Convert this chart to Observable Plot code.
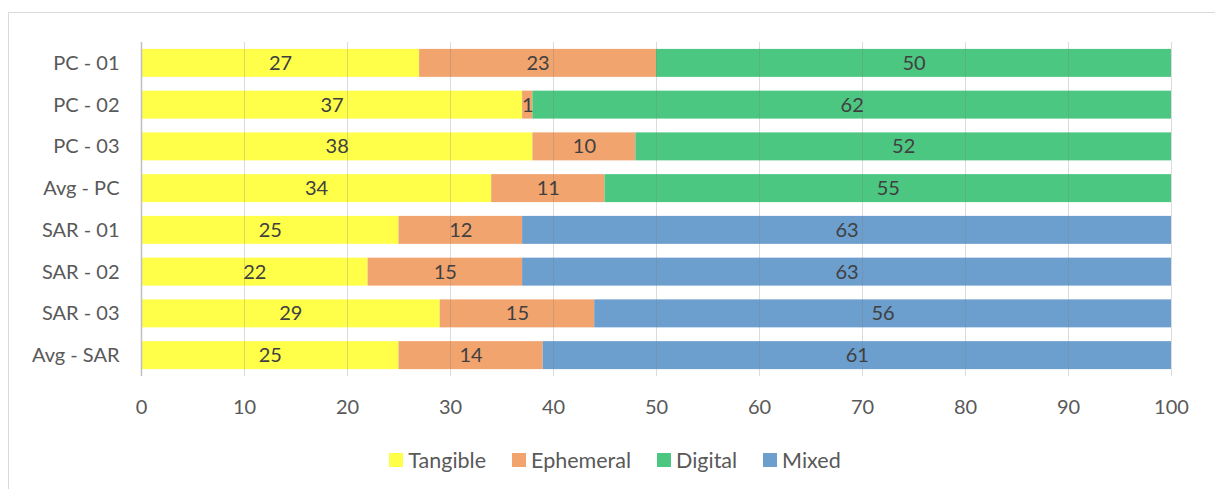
<!DOCTYPE html>
<html>
<head>
<meta charset="utf-8">
<script src="https://cdn.jsdelivr.net/npm/d3@7"></script>
<script src="https://cdn.jsdelivr.net/npm/@observablehq/plot@0.6"></script>
<style>
  html, body { margin: 0; padding: 0; background: #fff; }
  body { width: 1215px; height: 489px; position: relative; overflow: hidden; font-family: Lato, "Open Sans", sans-serif; }
  #frame { position: absolute; left: 8px; top: 12px; width: 1300px; height: 600px; border: 1px solid #d9d9d9; box-sizing: border-box; }
  #chart { position: absolute; left: 0; top: 0; }
  #legend { position: absolute; left: 0; top: 448px; width: 1230px; display: flex; justify-content: center; gap: 26px; font-size: 21.5px; line-height: 24px; color: #595959; }
  #legend .item { display: flex; align-items: center; gap: 5px; }
  #legend .sw { width: 14px; height: 14px; display: inline-block; }
</style>
</head>
<body>
<div id="frame"></div>
<div id="chart"></div>
<div id="legend"></div>
<script>
const categories = ["PC - 01","PC - 02","PC - 03","Avg - PC","SAR - 01","SAR - 02","SAR - 03","Avg - SAR"];
const types = ["Tangible","Ephemeral","Digital","Mixed"];
const colors = ["#FFFF4A","#F2A46F","#4CC782","#6C9ECE"];
const tangible  = [27,37,38,34,25,22,29,25];
const ephemeral = [23, 1,10,11,12,15,15,14];
const digital   = [50,62,52,55, 0, 0, 0, 0];
const mixed     = [ 0, 0, 0, 0,63,63,56,61];
const xTicks = [0,10,20,30,40,50,60,70,80,90,100];

const series = [tangible, ephemeral, digital, mixed];
const data = [];
categories.forEach((c, i) => {
  types.forEach((t, j) => {
    data.push({cat: c, type: t, value: series[j][i]});
  });
});
const nonzero = data.filter(d => d.value > 0);

const plot = Plot.plot({
  width: 1215,
  height: 430,
  marginLeft: 141,
  marginRight: 44,
  marginTop: 42,
  marginBottom: 54,
  style: {fontFamily: "Lato, 'Open Sans', sans-serif", fontSize: "20px", color: "#595959", background: "transparent"},
  x: {domain: [0, 100], ticks: xTicks, label: null, tickSize: 0, tickPadding: 23},
  y: {domain: categories, paddingInner: 0.33, paddingOuter: 0.165, round: false, label: null, tickSize: 0, tickPadding: 22},
  color: {domain: types, range: colors},
  marks: [
    Plot.barX(nonzero, Plot.stackX({x: "value", y: "cat", z: "type", fill: "type", order: types})),
    Plot.gridX(xTicks.filter(d => d > 0), {stroke: "#7f7f7f", strokeOpacity: 0.28}),
    Plot.ruleX([0], {stroke: "#bfbfbf", strokeWidth: 1.5}),
    Plot.text(nonzero, Plot.stackX({x: "value", y: "cat", z: "type", order: types, text: "value", fill: "#404040", fontSize: 20}))
  ]
});
document.getElementById("chart").appendChild(plot);

const legend = document.getElementById("legend");
types.forEach((t, j) => {
  const item = document.createElement("div");
  item.className = "item";
  const sw = document.createElement("span");
  sw.className = "sw";
  sw.style.background = colors[j];
  const lab = document.createElement("span");
  lab.textContent = t;
  item.appendChild(sw);
  item.appendChild(lab);
  legend.appendChild(item);
});
</script>
</body>
</html>
